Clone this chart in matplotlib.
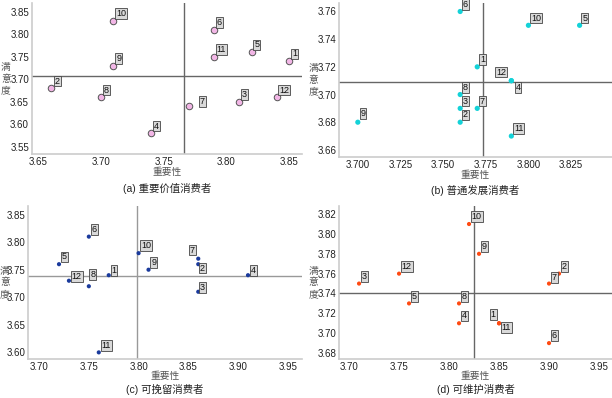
import matplotlib
matplotlib.use("Agg")
import matplotlib.pyplot as plt
import numpy as np

plt.rcParams['font.family'] = ['Liberation Sans', 'Noto Sans CJK SC', 'DejaVu Sans']

labels = [1, 2, 3, 4, 5, 6, 7, 8, 9, 10, 11, 12]

# (a) 重要价值消费者
a_x = [3.85, 3.66, 3.81, 3.74, 3.82, 3.79, 3.77, 3.70, 3.71, 3.71, 3.79, 3.84]
a_y = [3.74, 3.68, 3.65, 3.58, 3.76, 3.81, 3.64, 3.66, 3.73, 3.83, 3.75, 3.66]
# (b) 普通发展消费者
b_x = [3.77, 3.76, 3.76, 3.79, 3.83, 3.76, 3.77, 3.76, 3.70, 3.80, 3.79, 3.79]
b_y = [3.72, 3.68, 3.69, 3.71, 3.75, 3.76, 3.69, 3.70, 3.68, 3.75, 3.67, 3.71]
# (c) 可挽留消费者
c_x = [3.77, 3.86, 3.86, 3.91, 3.72, 3.75, 3.86, 3.75, 3.81, 3.80, 3.76, 3.73]
c_y = [3.74, 3.76, 3.71, 3.74, 3.76, 3.81, 3.77, 3.72, 3.75, 3.78, 3.60, 3.73]
# (d) 可维护消费者
d_x = [3.85, 3.91, 3.71, 3.81, 3.76, 3.90, 3.90, 3.81, 3.83, 3.82, 3.85, 3.75]
d_y = [3.71, 3.76, 3.75, 3.71, 3.73, 3.69, 3.75, 3.73, 3.78, 3.81, 3.71, 3.76]

captions = ['(a) 重要价值消费者', '(b) 普通发展消费者', '(c) 可挽留消费者', '(d) 可维护消费者']
xticks = [
    [3.65, 3.70, 3.75, 3.80, 3.85],
    [3.700, 3.725, 3.750, 3.775, 3.800, 3.825],
    [3.70, 3.75, 3.80, 3.85, 3.90, 3.95],
    [3.70, 3.75, 3.80, 3.85, 3.90, 3.95],
]
yticks = [
    [3.55, 3.60, 3.65, 3.70, 3.75, 3.80, 3.85],
    [3.66, 3.68, 3.70, 3.72, 3.74, 3.76],
    [3.60, 3.65, 3.70, 3.75, 3.80, 3.85],
    [3.68, 3.70, 3.72, 3.74, 3.76, 3.78, 3.80, 3.82],
]
xfmt = ['%.2f', '%.3f', '%.2f', '%.2f']
yfmt = ['%.2f', '%.2f', '%.2f', '%.2f']
xlims = [(3.645, 3.86), (3.689, 3.849), (3.689, 3.964), (3.690, 3.963)]
ylims = [(3.534, 3.869), (3.655, 3.766), (3.588, 3.866), (3.674, 3.8284)]

positions = [
    [0.052, 0.613, 0.441, 0.379],
    [0.554, 0.606, 0.446, 0.386],
    [0.046, 0.098, 0.447, 0.385],
    [0.554, 0.098, 0.446, 0.385],
]
ylabel_x = [-0.096, -0.095, -0.085, -0.095]
caption_off = [-24.5, -24.0, -22.3, -22.3]
xlabel_pad = [0.5, 0.5, -0.8, -0.8]

styles = [
    dict(s=22, c='#f2b6e6', edgecolors='#555555', linewidths=0.7),
    dict(s=14, c='#14d2d8', edgecolors='none'),
    dict(s=9, c='#1a3a9c', edgecolors='none'),
    dict(s=9, c='#ff4a12', edgecolors='none'),
]
line_colors = ['#666666', '#666666', '#999999', '#666666']

# label offsets in points (default up-right)
offsets = [
    {7: (8, 0), 2: (3, 2)},
    {12: (-11, 3), 4: (3, -8), 9: (2, 3), 11: (2, 2)},
    {7: (-6, 3), 2: (1, -6), 3: (1, 0), 1: (2, 0), 4: (2, 0), 12: (2, 0), 8: (1, 5)},
    {1: (-6, 3), 11: (2, -6), 7: (2, 1)},
]

fig = plt.figure(figsize=(6.12, 3.98), dpi=100)

data = [(a_x, a_y), (b_x, b_y), (c_x, c_y), (d_x, d_y)]
for i, (xs, ys) in enumerate(data):
    ax = fig.add_axes(positions[i])
    ax.scatter(xs, ys, zorder=3, **styles[i])
    ax.axvline(np.mean(xs), color=line_colors[i], lw=1.0, zorder=1)
    ax.axhline(np.mean(ys), color=line_colors[i], lw=1.0, zorder=1)
    for lab, x, y in zip(labels, xs, ys):
        dx, dy = offsets[i].get(lab, (2, 2))
        ax.annotate(str(lab), (x, y), xytext=(dx, dy), textcoords='offset points',
                    fontsize=6.5, color='#111111', ha='left', va='bottom',
                    bbox=dict(boxstyle='square,pad=0.1', fc='#d9d9d9', ec='#444444', lw=0.6),
                    zorder=4)
    ax.set_xlim(*xlims[i])
    ax.set_ylim(*ylims[i])
    ax.set_xticks(xticks[i])
    ax.set_xticklabels([xfmt[i] % v for v in xticks[i]])
    ax.set_yticks(yticks[i])
    ax.set_yticklabels([yfmt[i] % v for v in yticks[i]])
    ax.tick_params(length=0, labelsize=7, colors='#222222', pad=2)
    for s in ['top', 'right']:
        ax.spines[s].set_visible(False)
    for s in ['left', 'bottom']:
        ax.spines[s].set_color('#cccccc')
        ax.spines[s].set_linewidth(1.2)
    ax.set_xlabel('重要性', fontsize=7, color='#555555', labelpad=xlabel_pad[i],
                  family=['Noto Sans CJK SC', 'DejaVu Sans'])
    ax.set_ylabel('满\n意\n度', fontsize=7, color='#555555', rotation=0,
                  family=['Noto Sans CJK SC', 'DejaVu Sans'], linespacing=1.2,
                  ha='center', va='center')
    ax.yaxis.set_label_coords(ylabel_x[i], 0.5)
    ax.annotate(captions[i], (0.5, 0), xycoords='axes fraction',
                xytext=(0, caption_off[i]), textcoords='offset points',
                ha='center', va='center', fontsize=7.5, color='#222222',
                family=['Liberation Sans', 'Noto Sans CJK SC'])

fig.savefig('out.png', dpi=100)
